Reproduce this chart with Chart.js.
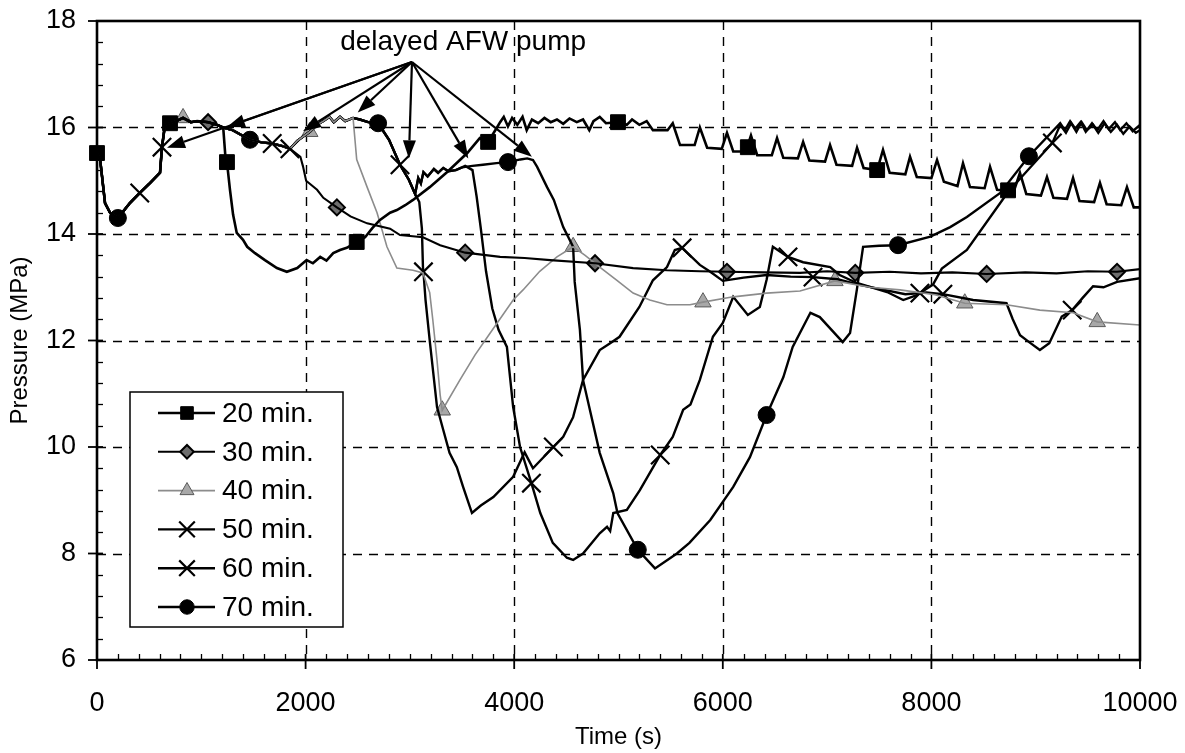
<!DOCTYPE html>
<html>
<head>
<meta charset="utf-8">
<title>Pressure vs time</title>
<script src="https://cdn.jsdelivr.net/npm/chart.js@4.4.1/dist/chart.umd.min.js"></script>
<style>
    html, body { margin: 0; padding: 0; background: #fff; }
    #wrap { width: 1185px; height: 753px; }
</style>
</head>
<body>
<div id="wrap"><canvas id="chartPressure" width="1185" height="753"></canvas></div>
<script>
// Pressure curves, [time (s), pressure (MPa)]
// path shared by every case until the first pump start
const sharedStart = [[0, 15.52], [30, 15.4], [77, 14.58], [125, 14.4], [200, 14.3], [315, 14.58], [410, 14.77],
    [510, 14.96], [604, 15.15], [623, 15.63], [652, 16.05], [700, 16.08], [760, 16.12], [825, 16.18], [900, 16.1],
    [960, 16.12], [1065, 16.1], [1150, 16.05], [1210, 16.0]];
// shared by 30..70 min
const shared30 = [[1300, 15.95], [1467, 15.77], [1580, 15.72], [1680, 15.7], [1780, 15.65], [1850, 15.6]];
// shared by 40..70 min
const shared40 = [[1920, 15.75], [2040, 15.92], [2110, 16.05], [2170, 16.12], [2230, 16.2], [2270, 16.1],
    [2330, 16.2], [2380, 16.12], [2455, 16.18]];
// shared by 50..70 min
const shared50 = [[2520, 16.15], [2600, 16.1], [2695, 16.08], [2800, 15.77], [2905, 15.3], [2990, 15.02], [3050, 14.75]];
// shared by 60..70 min
const shared60 = [[3080, 15.05], [3105, 14.95], [3130, 15.16], [3170, 15.08], [3230, 15.22], [3270, 15.15],
    [3320, 15.24], [3370, 15.18], [3440, 15.2], [3500, 15.25]];

const tail20 = [[1230, 15.48], [1246, 15.35], [1275, 14.83], [1305, 14.36], [1340, 14.02], [1400, 13.89], [1440, 13.76],
    [1515, 13.64], [1610, 13.51], [1725, 13.36], [1820, 13.29], [1920, 13.36], [2010, 13.51], [2070, 13.45],
    [2140, 13.57], [2200, 13.5], [2265, 13.64], [2330, 13.7], [2395, 13.74], [2490, 13.85], [2570, 13.94],
    [2640, 14.11], [2710, 14.26], [2810, 14.4], [2875, 14.45], [2955, 14.54], [3030, 14.64], [3190, 14.88],
    [3355, 15.16], [3550, 15.52], [3670, 15.8], [3750, 15.73], [3835, 16.0], [3865, 16.1], [3900, 16.2],
    [3940, 16.02], [3980, 16.18], [4030, 16.05], [4080, 16.2], [4120, 15.95], [4170, 16.15], [4230, 16.08],
    [4290, 16.18], [4350, 16.1], [4410, 16.15], [4470, 16.07], [4530, 16.17], [4600, 16.1], [4660, 16.15],
    [4720, 15.95], [4760, 16.12], [4820, 16.2], [4880, 16.08], [4995, 16.1], [5080, 16.05], [5130, 16.15],
    [5200, 16.05], [5270, 16.12], [5330, 15.95],
    [5470, 15.95], [5520, 16.08], [5590, 15.67], [5730, 15.67], [5780, 16.0], [5850, 15.62],
    [5990, 15.6], [6040, 15.9], [6100, 15.55], [6220, 15.55], [6270, 15.85], [6330, 15.48],
    [6470, 15.48], [6520, 15.8], [6580, 15.43], [6720, 15.42], [6770, 15.73], [6830, 15.38],
    [6980, 15.36], [7028, 15.67], [7090, 15.3], [7240, 15.28], [7287, 15.62], [7350, 15.24],
    [7480, 15.2], [7536, 15.58], [7600, 15.15], [7750, 15.12], [7795, 15.45], [7860, 15.07],
    [8000, 15.05], [8054, 15.39], [8120, 14.98], [8250, 14.9], [8303, 15.33], [8370, 14.88],
    [8510, 14.86], [8562, 15.26], [8630, 14.83], [8790, 14.8], [8849, 15.15], [8910, 14.75],
    [9050, 14.72], [9108, 15.07], [9170, 14.68], [9300, 14.66], [9358, 15.05], [9420, 14.62],
    [9560, 14.6], [9616, 14.96], [9680, 14.56], [9820, 14.54], [9875, 14.88], [9940, 14.5], [10000, 14.5]];

const tail30 = [[1950, 15.45], [1975, 15.27], [2005, 15.0], [2110, 14.83], [2170, 14.68], [2300, 14.5], [2430, 14.33],
    [2590, 14.2], [2810, 14.1], [2905, 13.98], [3125, 13.94], [3290, 13.79], [3530, 13.65], [3865, 13.57],
    [4100, 13.55], [4345, 13.51], [4775, 13.45], [5140, 13.36], [5465, 13.32], [5780, 13.3], [6040, 13.29],
    [6400, 13.28], [6740, 13.27], [7000, 13.3], [7270, 13.27], [7600, 13.29], [7900, 13.26], [8200, 13.28],
    [8530, 13.25], [8900, 13.28], [9200, 13.26], [9500, 13.3], [9780, 13.29], [10000, 13.34]];

const tail40 = [[2490, 15.4], [2590, 14.88], [2685, 14.4], [2780, 13.76], [2875, 13.36], [3030, 13.32], [3125, 13.27],
    [3190, 12.9], [3220, 12.38], [3260, 11.63], [3290, 10.98], [3310, 10.69], [3480, 11.26], [3625, 11.73],
    [3770, 12.14], [3990, 12.76], [4085, 12.95], [4245, 13.3], [4410, 13.57], [4565, 13.76], [4680, 13.6],
    [4820, 13.38], [4985, 13.13], [5140, 12.89], [5300, 12.76], [5465, 12.67], [5685, 12.67], [5810, 12.72],
    [6100, 12.82], [6420, 12.89], [6740, 12.93], [7075, 13.12], [7410, 13.0], [7700, 12.95], [8035, 12.86],
    [8320, 12.7], [8720, 12.67], [9040, 12.57], [9360, 12.52], [9590, 12.35], [10000, 12.29]];

const tail50 = [[3090, 14.6], [3115, 14.1], [3125, 13.38], [3130, 13.29], [3150, 12.76], [3190, 12.0], [3260, 10.75],
    [3320, 10.32], [3380, 9.89], [3450, 9.62], [3510, 9.25], [3595, 8.76], [3680, 8.9], [3800, 9.06], [3990, 9.44],
    [4100, 9.9], [4180, 9.6], [4375, 10.0], [4470, 10.19], [4565, 10.56], [4660, 11.26], [4820, 11.82],
    [4920, 11.95], [5010, 12.07], [5200, 12.63], [5330, 13.13], [5465, 13.38], [5540, 13.7], [5610, 13.74],
    [5780, 13.42], [5880, 13.29], [6000, 13.12], [6200, 13.18], [6420, 13.23], [6650, 13.2], [6865, 13.19],
    [7100, 13.15], [7300, 13.05], [7500, 12.97], [7750, 12.87], [7950, 12.9], [8110, 12.87], [8400, 12.76],
    [8720, 12.7], [8780, 12.4], [8850, 12.1], [8950, 11.95], [9040, 11.82], [9130, 11.95], [9250, 12.45],
    [9350, 12.57], [9450, 12.8], [9550, 13.02], [9650, 13.0], [9780, 13.1], [10000, 13.17]];

const tail60 = [[3530, 15.28], [3600, 15.2], [3640, 14.7], [3680, 14.1], [3730, 13.3], [3790, 12.6], [3850, 12.2],
    [3930, 11.88], [3990, 10.75], [4056, 10.0], [4165, 9.32], [4250, 8.76], [4370, 8.2], [4505, 7.92], [4565, 7.88],
    [4660, 8.0], [4820, 8.38], [4890, 8.5], [4920, 8.42], [4950, 8.76], [5080, 8.82], [5205, 9.19], [5400, 9.85],
    [5520, 10.19], [5620, 10.7], [5690, 10.8], [5780, 11.26], [5905, 12.07], [6000, 12.33], [6100, 12.82],
    [6240, 12.48], [6355, 12.63], [6420, 13.14], [6480, 13.76], [6625, 13.57], [6770, 13.47], [7030, 13.38],
    [7120, 13.23], [7285, 13.08], [7575, 12.91], [7730, 12.76], [7860, 12.85], [7890, 12.89], [8015, 13.05],
    [8100, 13.35], [8340, 13.7], [8735, 14.79], [9160, 15.71], [9235, 16.05], [9290, 15.9], [9340, 16.08],
    [9390, 15.92], [9440, 16.1], [9490, 15.95], [9550, 16.05], [9600, 15.9], [9660, 16.08], [9720, 15.92],
    [9780, 16.05], [9840, 15.88], [9900, 16.02], [9960, 15.9], [10000, 15.95]];

const tail70 = [[3600, 15.28], [3700, 15.3], [3830, 15.33], [3940, 15.35], [4060, 15.4], [4125, 15.42], [4180, 15.39],
    [4220, 15.26], [4315, 14.88], [4380, 14.64], [4470, 14.13], [4565, 13.76], [4580, 13.1], [4630, 12.2],
    [4660, 11.26], [4820, 9.89], [4950, 9.13], [4990, 8.76], [5185, 8.07], [5350, 7.72], [5560, 8.0], [5680, 8.2],
    [5880, 8.63], [6100, 9.25], [6260, 9.81], [6420, 10.6], [6580, 11.31], [6670, 11.88], [6840, 12.52],
    [6930, 12.44], [7150, 11.97], [7220, 12.14], [7285, 12.95], [7345, 13.76], [7500, 13.78], [7680, 13.79],
    [7990, 13.95], [8180, 14.13], [8340, 14.32], [8660, 14.77], [8935, 15.46], [9235, 16.08], [9280, 15.95],
    [9330, 16.12], [9380, 15.98], [9430, 16.1], [9480, 15.92], [9540, 16.08], [9590, 15.95], [9650, 16.12],
    [9700, 15.97], [9760, 16.1], [9810, 15.95], [9870, 16.08], [9930, 15.93], [10000, 16.05]];

// marker positions as drawn in the figure
const marks20 = [[0, 15.52], [700, 16.08], [1246, 15.35], [2490, 13.85], [3750, 15.73], [4995, 16.1], [6240, 15.63],
    [7480, 15.2], [8735, 14.82]];
const marks30 = [[1065, 16.1], [2300, 14.5], [3530, 13.65], [4775, 13.45], [6040, 13.29], [7270, 13.27], [8530, 13.25],
    [9780, 13.29]];
const marks40 = [[825, 16.18], [2040, 15.92], [3310, 10.69], [4565, 13.76], [5810, 12.72], [7075, 13.12], [8320, 12.7],
    [9590, 12.35]];
const marks50 = [[623, 15.63], [1850, 15.6], [3130, 13.29], [4375, 10.0], [5610, 13.74], [6865, 13.19], [8110, 12.87],
    [9350, 12.57]];
const marks60 = [[410, 14.77], [1680, 15.7], [2905, 15.3], [4165, 9.32], [5400, 9.85], [6625, 13.57], [7890, 12.89],
    [9160, 15.71]];
const marks70 = [[200, 14.3], [1467, 15.77], [2695, 16.08], [3940, 15.35], [5185, 8.07], [6420, 10.6], [7680, 13.79],
    [8935, 15.46]];

// "delayed AFW pump" callout: label anchor and arrow tips
const calloutText = 'delayed AFW pump';
const calloutApex = [3020, 17.23];
const calloutLabel = [3510, 17.6];
const calloutTips = [[1246, 16.01], [671, 15.62], [1975, 15.93], [2500, 16.28], [2990, 15.42], [3560, 15.42], [4170, 15.45]];

const xTicks = [0, 2000, 4000, 6000, 8000, 10000];
const yTicks = [6, 8, 10, 12, 14, 16, 18];

const FONT = "'Liberation Sans', Arial, Helvetica, sans-serif";

const series = [
    { label: '20 min.', line: [...sharedStart, ...tail20], marks: marks20,
      style: 'rect', radius: 10.5, color: '#000', width: 2.6, fill: '#000', markBorder: 1 },
    { label: '30 min.', line: [...sharedStart, ...shared30, ...tail30], marks: marks30,
      style: 'rectRot', radius: 8, color: '#000', width: 2.1, fill: '#6e6e6e', markBorder: 2 },
    { label: '40 min.', line: [...sharedStart, ...shared30, ...shared40, ...tail40], marks: marks40,
      style: 'triangle', radius: 9.5, color: '#8c8c8c', width: 1.6, fill: '#a8a8a8', markBorder: 1, markColor: '#5a5a5a' },
    { label: '50 min.', line: [...sharedStart, ...shared30, ...shared40, ...shared50, ...tail50], marks: marks50,
      style: 'crossRot', radius: 13, color: '#000', width: 2.4, fill: '#000', markBorder: 2.2 },
    { label: '60 min.', line: [...sharedStart, ...shared30, ...shared40, ...shared50, ...shared60, ...tail60], marks: marks60,
      style: 'crossRot', radius: 13, color: '#000', width: 2.4, fill: '#000', markBorder: 2.2 },
    { label: '70 min.', line: [...sharedStart, ...shared30, ...shared40, ...shared50, ...shared60, ...tail70], marks: marks70,
      style: 'circle', radius: 8.5, color: '#000', width: 2.4, fill: '#000', markBorder: 1 }
];

const toXY = arr => arr.map(p => ({ x: p[0], y: p[1] }));

const datasets = [];
series.forEach(s => {
    datasets.push({
        label: s.label,
        data: toXY(s.line),
        showLine: true,
        borderColor: s.color,
        borderWidth: s.width,
        pointRadius: 0,
        tension: 0
    });
});
series.forEach(s => {
    datasets.push({
        label: s.label + ' marks',
        data: toXY(s.marks),
        showLine: false,
        clip: false,
        pointStyle: s.style,
        pointRadius: s.radius,
        pointBackgroundColor: s.fill,
        pointBorderColor: s.markColor || '#000',
        pointBorderWidth: s.markBorder
    });
});

// dashed grid, inward minor ticks and the solid frame
const framePlugin = {
    id: 'frame',
    beforeDatasetsDraw(chart) {
        const { ctx, chartArea: a, scales: { x, y } } = chart;
        ctx.save();
        ctx.strokeStyle = '#000';
        ctx.lineWidth = 1.4;
        ctx.setLineDash([9, 7]);
        xTicks.slice(1, -1).forEach(v => {
            const px = Math.round(x.getPixelForValue(v)) + 0.5;
            ctx.beginPath(); ctx.moveTo(px, a.top); ctx.lineTo(px, a.bottom); ctx.stroke();
        });
        yTicks.slice(1, -1).forEach(v => {
            const py = Math.round(y.getPixelForValue(v)) + 0.5;
            ctx.beginPath(); ctx.moveTo(a.left, py); ctx.lineTo(a.right, py); ctx.stroke();
        });
        ctx.setLineDash([]);
        ctx.lineWidth = 1.3;
        for (let v = 200; v < 10000; v += 200) {
            if (v % 2000 === 0) continue;
            const px = Math.round(x.getPixelForValue(v)) + 0.5;
            ctx.beginPath(); ctx.moveTo(px, a.bottom); ctx.lineTo(px, a.bottom - 6); ctx.stroke();
        }
        for (let i = 1; i < 30; i++) {
            if (i % 5 === 0) continue;
            const py = Math.round(y.getPixelForValue(6 + i * 0.4)) + 0.5;
            ctx.beginPath(); ctx.moveTo(a.left, py); ctx.lineTo(a.left + 6, py); ctx.stroke();
        }
        ctx.lineWidth = 1.8;
        xTicks.forEach(v => {
            const px = x.getPixelForValue(v);
            ctx.beginPath(); ctx.moveTo(px, a.bottom - 6); ctx.lineTo(px, a.bottom + 9); ctx.stroke();
        });
        yTicks.forEach(v => {
            const py = y.getPixelForValue(v);
            ctx.beginPath(); ctx.moveTo(a.left - 9, py); ctx.lineTo(a.left + 6, py); ctx.stroke();
        });
        ctx.restore();
    },
    afterDatasetsDraw(chart) {
        const { ctx, chartArea: a } = chart;
        ctx.save();
        ctx.strokeStyle = '#000';
        ctx.lineWidth = 2.6;
        ctx.strokeRect(a.left, a.top, a.right - a.left, a.bottom - a.top);
        ctx.restore();
    }
};

function drawArrow(ctx, x0, y0, x1, y1) {
    const ang = Math.atan2(y1 - y0, x1 - x0);
    const len = 18, half = 6.5;
    const bx = x1 - len * Math.cos(ang), by = y1 - len * Math.sin(ang);
    ctx.beginPath(); ctx.moveTo(x0, y0); ctx.lineTo(bx, by); ctx.stroke();
    ctx.beginPath();
    ctx.moveTo(x1, y1);
    ctx.lineTo(bx + half * Math.sin(ang), by - half * Math.cos(ang));
    ctx.lineTo(bx - half * Math.sin(ang), by + half * Math.cos(ang));
    ctx.closePath();
    ctx.fill();
}

// callout text with arrows pointing at each pump start
const calloutPlugin = {
    id: 'callout',
    afterDatasetsDraw(chart) {
        const { ctx, scales: { x, y } } = chart;
        const ax = x.getPixelForValue(calloutApex[0]), ay = y.getPixelForValue(calloutApex[1]);
        ctx.save();
        ctx.strokeStyle = '#000';
        ctx.fillStyle = '#000';
        ctx.lineWidth = 2.2;
        calloutTips.forEach(t => drawArrow(ctx, ax, ay, x.getPixelForValue(t[0]), y.getPixelForValue(t[1])));
        ctx.font = '28px ' + FONT;
        ctx.textAlign = 'center';
        ctx.textBaseline = 'middle';
        ctx.fillText(calloutText, x.getPixelForValue(calloutLabel[0]), y.getPixelForValue(calloutLabel[1]));
        ctx.restore();
    }
};

// boxed legend in the lower left of the plot, line-marker-line samples
const legendPlugin = {
    id: 'boxLegend',
    afterDraw(chart) {
        const { ctx, chartArea: a } = chart;
        const bx = a.left + 33, by = a.top + 371, bw = 213, bh = 235;
        ctx.save();
        ctx.fillStyle = '#fff';
        ctx.fillRect(bx, by, bw, bh);
        ctx.strokeStyle = '#000';
        ctx.lineWidth = 1.5;
        ctx.strokeRect(bx, by, bw, bh);
        ctx.font = '28px ' + FONT;
        ctx.textBaseline = 'middle';
        series.forEach((s, i) => {
            const cy = by + 21 + i * 38.8;
            ctx.strokeStyle = s.color;
            ctx.lineWidth = s.width;
            ctx.beginPath(); ctx.moveTo(bx + 28, cy); ctx.lineTo(bx + 85, cy); ctx.stroke();
            ctx.fillStyle = s.fill;
            ctx.strokeStyle = s.markColor || '#000';
            ctx.lineWidth = s.markBorder;
            Chart.helpers.drawPoint(ctx, { pointStyle: s.style, radius: s.radius * 0.85, rotation: 0, borderWidth: s.markBorder },
                bx + 57, cy);
            ctx.fillStyle = '#000';
            ctx.fillText(s.label, bx + 92, cy + 1);
        });
        ctx.restore();
    }
};

const ctx = document.getElementById('chartPressure').getContext('2d');
new Chart(ctx, {
    type: 'scatter',
    data: { datasets: datasets },
    options: {
        responsive: false,
        animation: false,
        devicePixelRatio: 1,
        layout: { padding: { top: 21, right: 45, left: 0, bottom: 0 } },
        plugins: {
            legend: { display: false },
            tooltip: { enabled: false }
        },
        scales: {
            x: {
                type: 'linear',
                min: 0,
                max: 10000,
                afterFit: scale => {
                    scale.height = 93;
                    scale.paddingLeft = 0;
                    scale.paddingRight = 0;
                },
                afterBuildTicks: scale => { scale.ticks = xTicks.map(v => ({ value: v })); },
                grid: { display: false, drawTicks: false },
                border: { display: false },
                ticks: {
                    color: '#000',
                    font: { family: FONT, size: 27 },
                    padding: 27,
                    maxRotation: 0,
                    callback: v => String(v)
                },
                title: {
                    display: true,
                    text: 'Time (s)',
                    color: '#000',
                    font: { family: FONT, size: 24 },
                    padding: { top: 0, bottom: 1 }
                }
            },
            y: {
                type: 'linear',
                min: 6,
                max: 18,
                afterFit: scale => {
                    scale.width = 97;
                    scale.paddingTop = 0;
                    scale.paddingBottom = 0;
                },
                afterBuildTicks: scale => { scale.ticks = yTicks.map(v => ({ value: v })); },
                grid: { display: false, drawTicks: false },
                border: { display: false },
                ticks: {
                    color: '#000',
                    font: { family: FONT, size: 27 },
                    padding: 21,
                    callback: v => String(v)
                },
                title: {
                    display: true,
                    text: 'Pressure (MPa)',
                    color: '#000',
                    font: { family: FONT, size: 24 },
                    padding: { top: 6, bottom: 0 }
                }
            }
        }
    },
    plugins: [framePlugin, calloutPlugin, legendPlugin]
});
</script>
</body>
</html>
